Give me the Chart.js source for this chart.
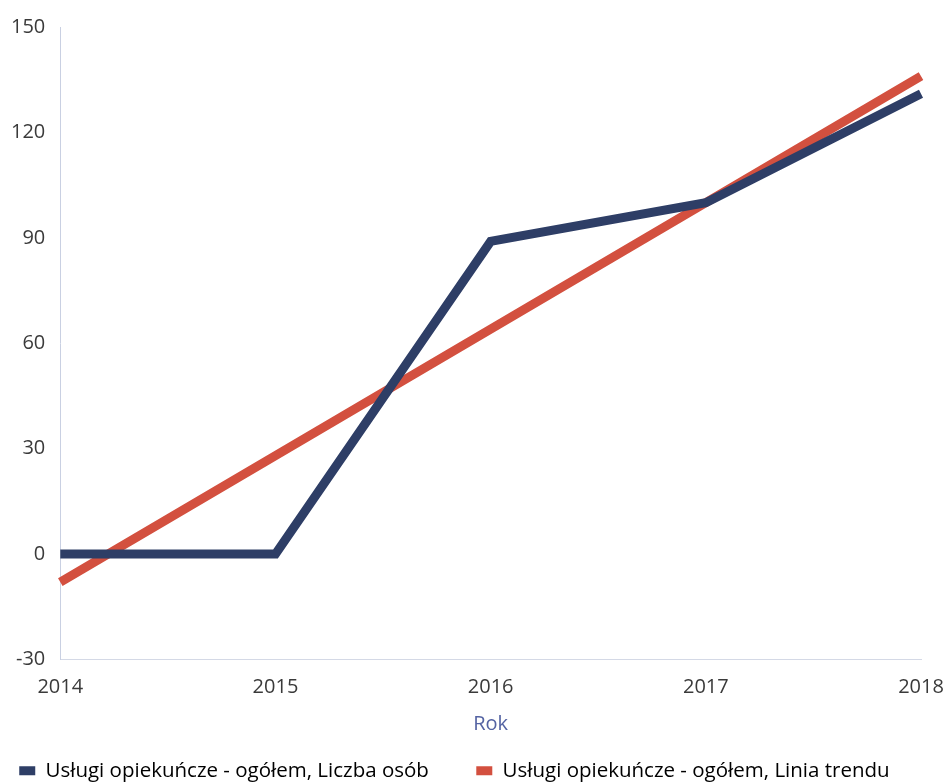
<!doctype html>
<html>
  <head>
    <meta charset="utf-8">
    <script src="https://cdn.jsdelivr.net/npm/chart.js@4.4.0/dist/chart.umd.min.js"></script>
    <style>
      body { margin: 0; background: #fff; }
      #wrap { width: 947px; height: 783px; }
    </style>
  </head>
  <body>
    <div id="wrap"><canvas id="c1" width="947" height="783"></canvas></div>
    <script>
      // values
      let years = ["2014", "2015", "2016", "2017", "2018"];
      let liczbaOsob = [0, 0, 89, 100, 131];
      let liniaTrendu = [-8, 28, 64, 100, 136];
      let seriesNames = ["Usługi opiekuńcze - ogółem, Liczba osób", "Usługi opiekuńcze - ogółem, Linia trendu"];
      let seriesColors = ['#2e3e66', '#d3503f'];
      // spacing after each legend entry
      let legendGaps = ['\u2003\u2003\u2009', '\u2003\u2002\u2009'];

      let fontFam = "'Open Sans', 'Noto Sans', sans-serif";

      let chart1 = new Chart(document.getElementById("c1"), {
        type: 'line',
        data: {
          labels: years,
          datasets: [{
            label: seriesNames[0],
            data: liczbaOsob,
            borderColor: seriesColors[0],
            backgroundColor: seriesColors[0],
            borderWidth: 9,
            pointRadius: 0,
            tension: 0
          }, {
            label: seriesNames[1],
            data: liniaTrendu,
            borderColor: seriesColors[1],
            backgroundColor: seriesColors[1],
            borderWidth: 9,
            pointRadius: 0,
            tension: 0
          }]
        },
        options: {
          responsive: false,
          animation: false,
          layout: { autoPadding: false, padding: { left: -4, right: 0, top: 25, bottom: -8 } },
          scales: {
            x: {
              grid: { display: false, drawTicks: false },
              border: { display: true, color: '#d4d9e6', width: 1 },
              ticks: { color: '#3a3a3a', font: { family: fontFam, size: 20 }, padding: 16, maxRotation: 0 },
              title: { display: true, text: 'Rok', color: '#5463a3', font: { family: fontFam, size: 20 }, padding: { top: -3, bottom: 21 } },
              afterFit: function(scale) { scale.paddingRight = 26; }
            },
            y: {
              min: -30,
              max: 150,
              grid: { display: false, drawTicks: false },
              border: { display: true, color: '#c9d0e2', width: 1, dash: [2, 2] },
              ticks: { stepSize: 30, color: '#3a3a3a', font: { family: fontFam, size: 20 }, padding: 15 }
            }
          },
          plugins: {
            legend: {
              position: 'bottom',
              align: 'center',
              labels: {
                color: '#222',
                font: { family: fontFam, size: 20.5 },
                boxWidth: 16,
                boxHeight: 9,
                padding: 3,
                generateLabels: function(chart) {
                  return chart.data.datasets.map(function(ds, i) {
                    return {
                      text: ds.label + legendGaps[i],
                      fillStyle: seriesColors[i],
                      strokeStyle: seriesColors[i],
                      lineWidth: 0,
                      hidden: false,
                      datasetIndex: i
                    };
                  });
                }
              }
            },
            tooltip: { enabled: false }
          }
        }
      });
    </script>
  </body>
</html>
